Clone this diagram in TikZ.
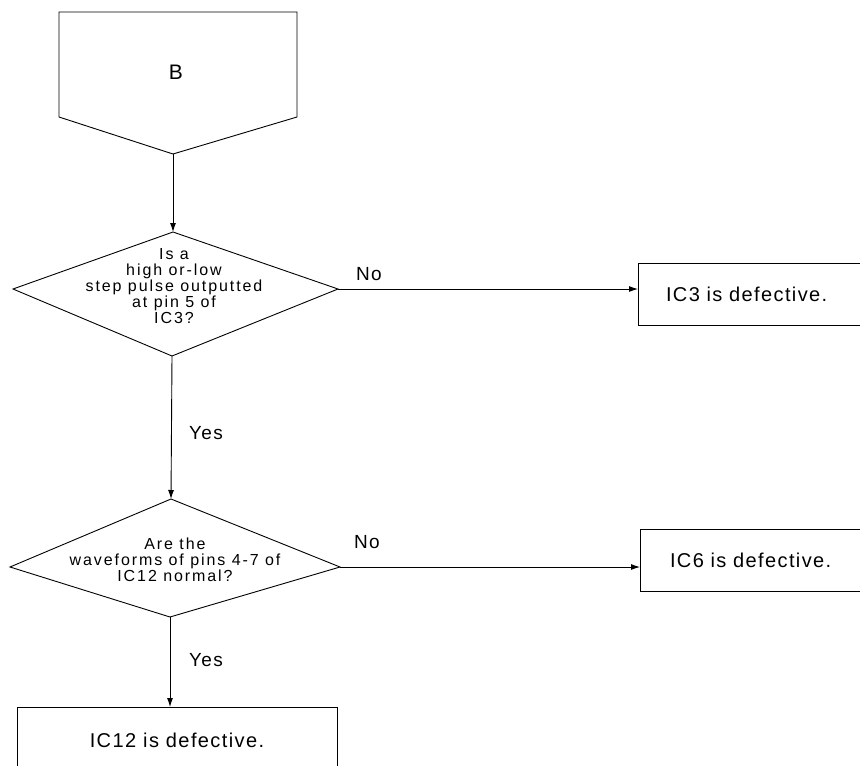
\documentclass[tikz,border=0pt]{standalone}
\usepackage{fontspec}
\setmainfont{Liberation Sans}
\usetikzlibrary{arrows.meta}
\newfontfamily\boxfont{Liberation Sans}[LetterSpace=7]
\newfontfamily\askfont{Liberation Sans}[LetterSpace=12]
\begin{document}
\begin{tikzpicture}[x=1pt,y=-1pt,
  outline/.style={draw=black, line width=0.9pt, line join=miter},
  flow/.style={draw=black, line width=0.9pt, -{Latex[length=9pt,width=6pt]}},
  result/.style={outline, outer sep=0pt, inner ysep=0pt, align=left,
    font=\boxfont\fontsize{20}{22}\selectfont},
  ask/.style={align=center, inner sep=0pt,
    font=\askfont\fontsize{16}{16}\selectfont},
  answer/.style={inner sep=0pt, font=\boxfont\fontsize{19}{20}\selectfont},
]
\clip (0,0) rectangle (860,766);

% off-page connector B
\coordinate (bnw) at (59,12);
\coordinate (bne) at (297,12);
\coordinate (bse) at (297,117);
\coordinate (bsw) at (59,117);
\coordinate (bpt) at (173,154);
\draw[outline] (bnw) -- (bne) -- (bse) -- (bpt) -- (bsw) -- cycle;
\node[inner sep=0pt, font=\boxfont\fontsize{21}{22}\selectfont] (B) at (176,72) {B};

% first decision
\coordinate (d1n) at (173,232);
\coordinate (d1w) at (13,289);
\coordinate (d1e) at (338,289);
\coordinate (d1s) at (172,356);
\draw[outline] (d1n) -- (d1e) -- (d1s) -- (d1w) -- cycle;
\node[ask] (q1) at (174,286) {Is a\\high or-low\\step pulse outputted\\at pin 5 of\\IC3?};

% second decision
\coordinate (d2n) at (171,499);
\coordinate (d2w) at (10,567);
\coordinate (d2e) at (340,567);
\coordinate (d2s) at (170,617);
\draw[outline] (d2n) -- (d2e) -- (d2s) -- (d2w) -- cycle;
\node[ask] (q2) at (175,560) {Are the\\waveforms of pins 4-7 of\\IC12 normal?};

% results
\node[result, anchor=north west, minimum height=62, text width=230, inner xsep=28]
  (r3) at (638,263) {IC3 is defective.};
\node[result, anchor=north west, minimum height=62, text width=230, inner xsep=30]
  (r6) at (640,529) {IC6 is defective.};
\node[result, anchor=north, minimum width=320, minimum height=66]
  (r12) at (177,707) {IC12 is defective.};

% connectors
\draw[flow] (bpt) -- (d1n);
\draw[flow] (d1e) -- (d1e -| r3.west);
\draw[flow] (d1s) -- (d2n);
\draw[flow] (d2e) -- (d2e -| r6.west);
\draw[flow] (d2s) -- (d2s |- r12.north);

% branch labels
\node[answer] (no1) at (369,274) {No};
\node[answer] (yes1) at (206,433) {Yes};
\node[answer] (no2) at (367,542) {No};
\node[answer] (yes2) at (206,660) {Yes};
\end{tikzpicture}
\end{document}
